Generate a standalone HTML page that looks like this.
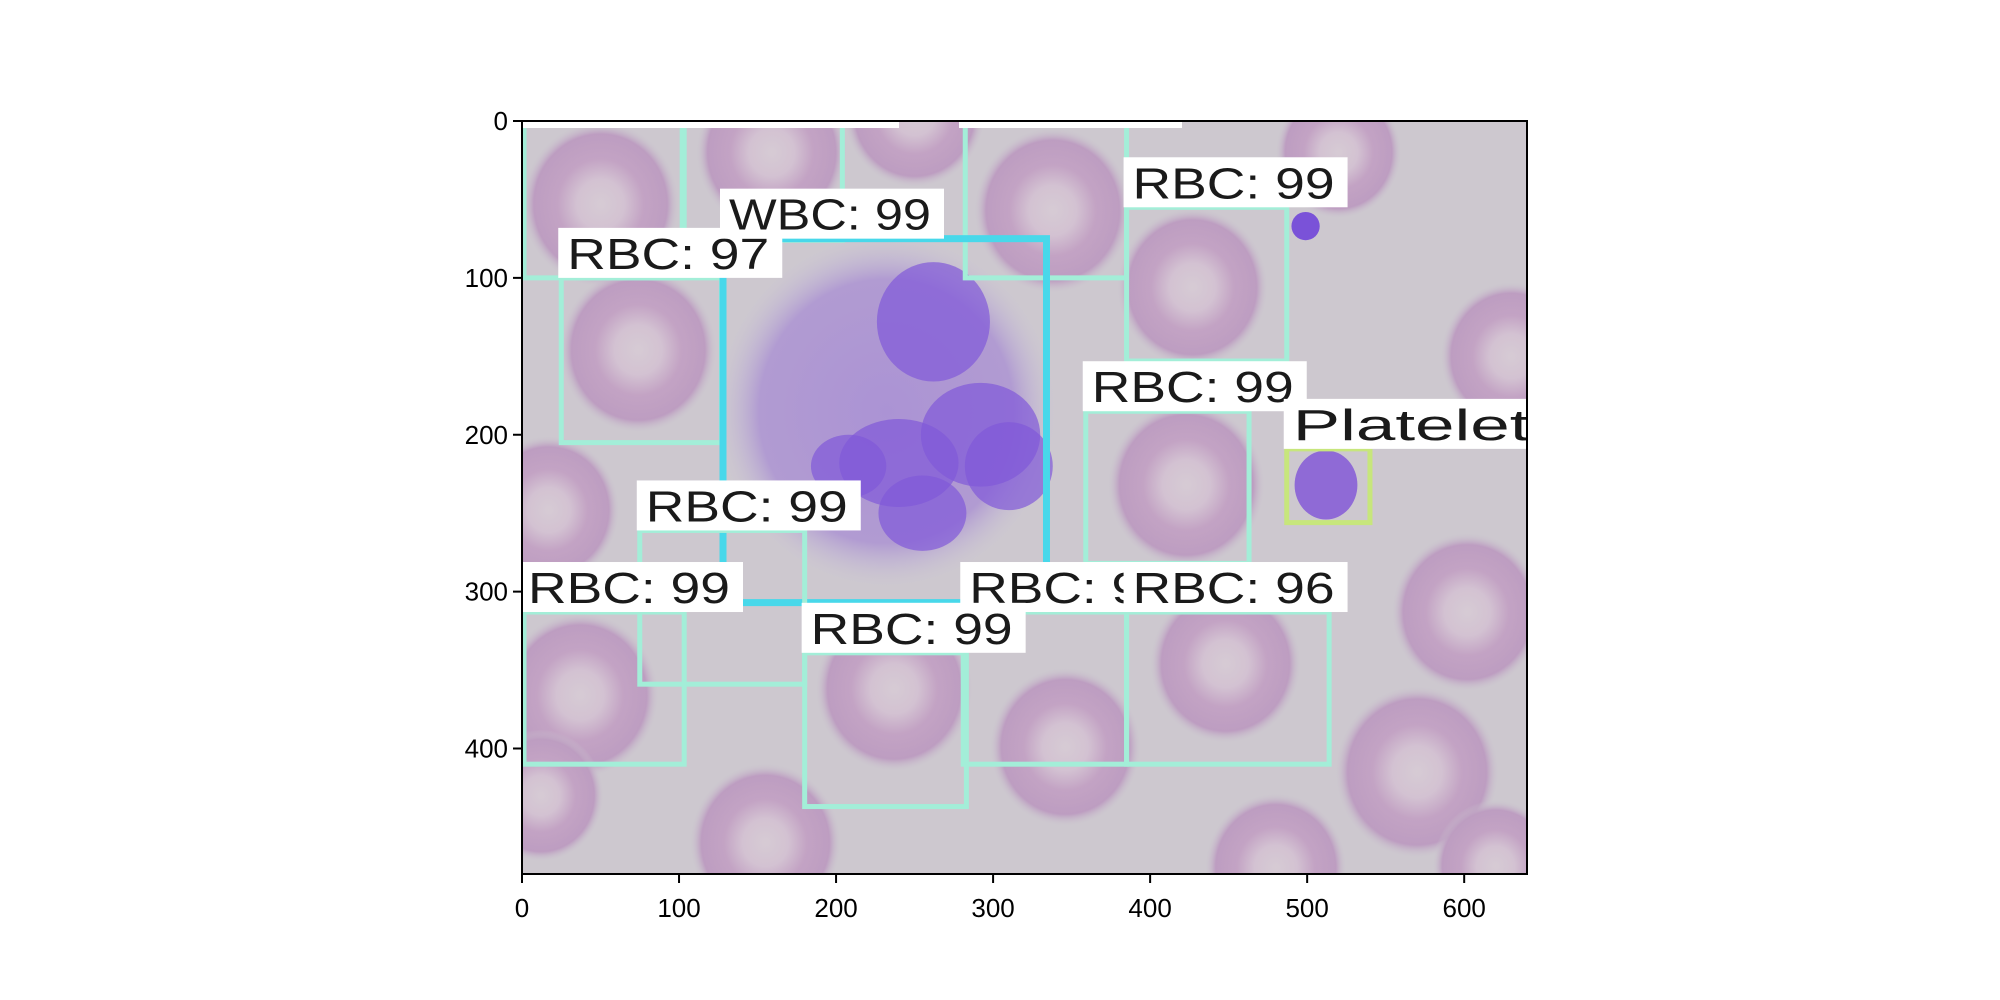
<!DOCTYPE html>
<html><head><meta charset="utf-8"><style>
html,body{margin:0;padding:0;background:#fff;}
svg{display:block;}
text{font-family:"Liberation Sans","DejaVu Sans",sans-serif;}
</style></head><body>
<svg id="chart" width="2000" height="1000" viewBox="0 0 2000 1000" xmlns="http://www.w3.org/2000/svg">
<defs>
<radialGradient id="rbc" cx="50%" cy="50%" r="50%">
<stop offset="0%" stop-color="#d6cbd4"/>
<stop offset="30%" stop-color="#d3c2d2"/>
<stop offset="55%" stop-color="#c3a3c4"/>
<stop offset="85%" stop-color="#bd9dc1"/>
<stop offset="100%" stop-color="#cbc4cf" stop-opacity="0"/>
</radialGradient>
<radialGradient id="wbc" cx="50%" cy="50%" r="50%">
<stop offset="0%" stop-color="#ab93d4"/>
<stop offset="75%" stop-color="#b19bd2"/>
<stop offset="100%" stop-color="#c8c0d6" stop-opacity="0"/>
</radialGradient>
<clipPath id="plotclip"><rect x="522" y="121" width="1005" height="753"/></clipPath>
</defs>
<g id="plot" clip-path="url(#plotclip)"></g>
<g id="axes"></g>
</svg>
<script>
const cellsX=[50,159,338,427,74,423,630,37,237,346,448,570,602,17,155,480,250,520,12,620];
const cellsY=[53,20,57,106,146,232,150,366,362,399,346,415,313,248,460,476,-5,20,430,475];
const cellsR=[50,48,50,48,50,50,45,50,50,48,48,52,48,45,48,45,45,40,40,40];
const boxLabels=["RBC: 97","WBC: 99","RBC: 99","RBC: 99","Platelets:","RBC: 99","RBC: 99","RBC: 9","RBC: 96","RBC: 99"];
const boxX0=[25,128,385,359,487,75,0,281,385,180];
const boxY0=[100,75,55,185,209,261,313,313,313,339];
const boxX1=[127,334,487,463,540,180,102,385,514,283];
const boxY1=[205,307,153,282,256,359,410,410,410,437];
const boxKind=["rbc","wbc","rbc","rbc","plt","rbc","rbc","rbc","rbc","rbc"];
const topBoxX0=[0,102,281];const topBoxX1=[102,204,385];const topBoxY1=[100,76,100];
const xTicks=[0,100,200,300,400,500,600];
const yTicks=[0,100,200,300,400];
const L=522,T=121,W=1005,H=753;
const sx=v=>L+v*W/640, sy=v=>T+v*H/480, s=v=>v*W/640;
const NS="http://www.w3.org/2000/svg";
function mk(tag,attrs,parent){const e=document.createElementNS(NS,tag);for(const k in attrs)e.setAttribute(k,attrs[k]);parent.appendChild(e);return e;}
const plot=document.getElementById('plot'), axes=document.getElementById('axes');
let bg=mk('rect',{x:L,y:T,width:W,height:H,fill:'#cdc8cf'},plot);


cellsX.forEach((cx,i)=>{
 const c=mk('ellipse',{cx:sx(cx),cy:sy(cellsY[i]),rx:s(cellsR[i]),ry:s(cellsR[i])*1.05,fill:'url(#rbc)'},plot);
 
 
});
let w=mk('ellipse',{cx:sx(232),cy:sy(185),rx:s(108),ry:s(112),fill:'url(#wbc)'},plot);


[[262,128,36,38],[292,200,38,33],[240,218,38,28],[208,220,24,20],[255,250,28,24],[310,220,28,28]].forEach(n=>{
 const e=mk('ellipse',{cx:sx(n[0]),cy:sy(n[1]),rx:s(n[2]),ry:s(n[3]),fill:'#8058d8',opacity:0.7},plot);
 
 
});
let p=mk('ellipse',{cx:sx(512),cy:sy(232),rx:s(20),ry:s(22),fill:'#8f6ad6'},plot);


let p2=mk('ellipse',{cx:sx(499),cy:sy(67),rx:s(9),ry:s(9),fill:'#7a52d8'},plot);


const col={rbc:'#a3eed8',wbc:'#48d8ea',plt:'#c7e67c'};
topBoxX0.forEach((x0,i)=>{
 const r=mk('path',{d:`M${sx(x0)+2},${T} L${sx(x0)+2},${sy(topBoxY1[i])} L${sx(topBoxX1[i])},${sy(topBoxY1[i])} L${sx(topBoxX1[i])},${T}`,fill:'none',stroke:col.rbc,'stroke-width':5},plot);
 
 
});
boxX0.forEach((x0,i)=>{
 const r=mk('rect',{x:sx(x0)+(x0===0?2:0),y:sy(boxY0[i]),width:sx(boxX1[i])-sx(x0),height:sy(boxY1[i])-sy(boxY0[i]),fill:'none',stroke:col[boxKind[i]],'stroke-width':boxKind[i]==='wbc'?7:5},plot);
 
 
});
boxX0.forEach((x0,i)=>{
 const n=boxLabels[i].length;
 const lw=(n===6?7:n)*30+14, lh=50;
 const lx=sx(x0)-3, ly=sy(boxY0[i])-lh;
 const r=mk('rect',{x:lx,y:ly,width:lw,height:lh,fill:'#ffffff'},plot);
 
 
 const t=mk('text',{x:lx+9,y:ly+41,'font-size':44,fill:'#1a1a1a',textLength:n*30-8,lengthAdjust:'spacingAndGlyphs'},plot);
 t.textContent=boxLabels[i];
 
 
});
[[0,377],[437,660]].forEach(a=>{
 const r=mk('rect',{x:sx(0)+a[0],y:T,width:a[1]-a[0],height:7,fill:'#fff'},plot);
 
 
});
let fr=mk('rect',{x:L,y:T,width:W,height:H,fill:'none',stroke:'#000','stroke-width':2},axes);


xTicks.forEach(v=>{
 const l=mk('line',{x1:sx(v),x2:sx(v),y1:T+H,y2:T+H+9,stroke:'#000','stroke-width':2},axes);
 
 
 const t=mk('text',{x:sx(v),y:T+H+43,'font-size':26,'text-anchor':'middle',fill:'#000'},axes);
 t.textContent=v;
 
 
});
yTicks.forEach(v=>{
 const l=mk('line',{x1:L-9,x2:L,y1:sy(v),y2:sy(v),stroke:'#000','stroke-width':2},axes);
 
 
 const t=mk('text',{x:L-14,y:sy(v)+9,'font-size':26,'text-anchor':'end',fill:'#000'},axes);
 t.textContent=v;
 
 
});
</script>
</body></html>
